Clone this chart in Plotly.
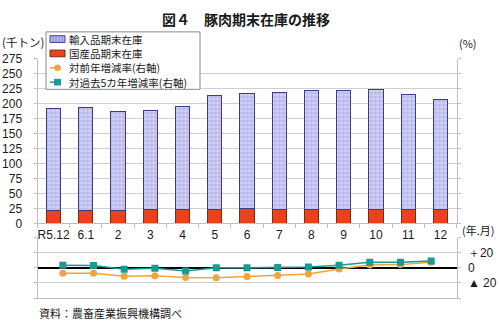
import plotly.graph_objects as go

W, H = 500, 328
months = ["R5.12", "6.1", "2", "3", "4", "5", "6", "7", "8", "9", "10", "11", "12"]
imported = [170, 173, 165, 166, 173, 190, 192, 195, 199, 200, 201, 193.5, 185]
domestic = [22, 21, 22, 23, 23, 24, 25, 24, 23, 22.5, 22.5, 22.5, 23]
yoy = [-7.3, -7.3, -11, -10.4, -12.9, -13, -11.6, -10, -8, -1.5, 3.9, 4.3, 7.5]
vs5yr = [3.5, 3.0, -1.7, -0.5, -4, 0, 0, 0.5, 1, 3.5, 7.3, 7.3, 9]
legend_names = ["輸入品期末在庫", "国産品期末在庫", "対前年増減率(右軸)", "対過去5カ年増減率(右軸)"]

FONT = "Noto Sans CJK JP"
NUMFONT = "Liberation Sans"

C_IMP_BG, C_IMP_FG, C_IMP_LINE = "#D4D4F6", "#6A6AD0", "#3C3C84"
C_DOM, C_DOM_LINE = "#E8431A", "#7A2A10"
C_YOY, C_5YR = "#F2A43A", "#1A9A95"


def py(y):
    return 1 - y / H


def pxx(x):
    return x / W


xdom = [pxx(37.5), pxx(456.5)]

fig = go.Figure()
fig.add_trace(go.Bar(
    x=months, y=domestic, name=legend_names[1],
    marker=dict(color=C_DOM, line=dict(color=C_DOM_LINE, width=1)),
    xaxis="x", yaxis="y",
))
fig.add_trace(go.Bar(
    x=months, y=imported, name=legend_names[0],
    marker=dict(color=C_IMP_BG, line=dict(color=C_IMP_LINE, width=1),
                pattern=dict(shape="+", fgcolor=C_IMP_FG, bgcolor=C_IMP_BG, size=4, solidity=0.3)),
    xaxis="x", yaxis="y",
))
fig.add_trace(go.Scatter(
    x=months, y=yoy, name=legend_names[2], mode="lines+markers",
    line=dict(color=C_YOY, width=1.5),
    marker=dict(symbol="circle", size=7, color=C_YOY),
    xaxis="x2", yaxis="y2",
))
fig.add_trace(go.Scatter(
    x=months, y=vs5yr, name=legend_names[3], mode="lines+markers",
    line=dict(color=C_5YR, width=1.5),
    marker=dict(symbol="square", size=7, color=C_5YR),
    xaxis="x2", yaxis="y2",
))

# manual legend (compact, like the reference)
shapes = []
annots = []
lx0, lx1, ly0, ly1 = 46, 200, 26, 86
shapes.append(dict(type="rect", xref="paper", yref="paper", x0=pxx(lx0), x1=pxx(lx1), y0=py(ly1), y1=py(ly0),
                   line=dict(color="#888888", width=1), fillcolor="white", layer="above"))
rows = [33.5, 48.5, 63.5, 78.5]
sx0, sx1 = 50, 65
shapes.append(dict(type="rect", xref="paper", yref="paper", x0=pxx(sx0), x1=pxx(sx1), y0=py(rows[0] + 3.5), y1=py(rows[0] - 3.5),
                   line=dict(color=C_IMP_LINE, width=1), fillcolor="#B8B8EE", layer="above"))
for vx in [53, 56, 59, 62]:
    shapes.append(dict(type="line", xref="paper", yref="paper", x0=pxx(vx), x1=pxx(vx), y0=py(rows[0] + 3), y1=py(rows[0] - 3),
                       line=dict(color=C_IMP_FG, width=0.6), layer="above"))
shapes.append(dict(type="rect", xref="paper", yref="paper", x0=pxx(sx0), x1=pxx(sx1), y0=py(rows[1] + 3.5), y1=py(rows[1] - 3.5),
                   line=dict(color=C_DOM_LINE, width=1), fillcolor=C_DOM, layer="above"))
for r, c, sym in [(rows[2], C_YOY, "circle"), (rows[3], C_5YR, "rect")]:
    shapes.append(dict(type="line", xref="paper", yref="paper", x0=pxx(sx0), x1=pxx(sx1), y0=py(r), y1=py(r),
                       line=dict(color=c, width=1.5, dash="dash"), layer="above"))
    cx = (sx0 + sx1) / 2
    shapes.append(dict(type=sym, xref="paper", yref="paper", x0=pxx(cx - 3), x1=pxx(cx + 3), y0=py(r + 3), y1=py(r - 3),
                       line=dict(color=c, width=1), fillcolor=c, layer="above"))
for r, name in zip(rows, legend_names):
    annots.append(dict(text=name, x=pxx(67), y=py(r), xref="paper", yref="paper", xanchor="left", yanchor="middle",
                       showarrow=False, font=dict(size=10.5, family=FONT)))

axis_gray = "#BFBFBF"
annots += [
    dict(text="<b>図４　豚肉期末在庫の推移</b>", x=pxx(246), y=py(13), xref="paper", yref="paper",
         xanchor="center", yanchor="middle", showarrow=False, font=dict(size=14, family=FONT)),
    dict(text="(千トン)", x=0, y=py(37), xref="paper", yref="paper",
         xanchor="left", yanchor="middle", showarrow=False, font=dict(size=11.5, family=FONT)),
    dict(text="(%)", x=pxx(468), y=py(38), xref="paper", yref="paper",
         xanchor="center", yanchor="middle", showarrow=False, font=dict(size=11, family=FONT)),
    dict(text="(年.月)", x=pxx(478), y=py(233), xref="paper", yref="paper",
         xanchor="center", yanchor="middle", showarrow=False, font=dict(size=11, family=FONT)),
    dict(text="資料：農畜産業振興機構調べ", x=pxx(37), y=py(320), xref="paper", yref="paper",
         xanchor="left", yanchor="middle", showarrow=False, font=dict(size=11, family=FONT)),
]

fig.update_layout(
    width=W, height=H,
    margin=dict(l=0, r=0, t=0, b=0),
    paper_bgcolor="white", plot_bgcolor="white",
    font=dict(family=FONT, size=11, color="#1a1a1a"),
    barmode="stack", bargap=0.56,
    showlegend=False,
    xaxis=dict(domain=xdom, anchor="y", type="category", categoryorder="array", categoryarray=months,
               showline=True, linecolor=axis_gray, ticks="outside", tickson="boundaries",
               ticklen=4, tickcolor=axis_gray, showgrid=False, tickangle=0,
               tickfont=dict(size=12, family=NUMFONT)),
    yaxis=dict(domain=[py(226), py(54.3)], range=[0, 275], dtick=25,
               showline=True, linecolor=axis_gray, mirror="ticks",
               ticks="outside", ticklen=3, tickcolor=axis_gray,
               gridcolor="#CFCFCF", gridwidth=1, zeroline=False,
               tickfont=dict(size=12, family=NUMFONT), ticklabelstandoff=9),
    xaxis2=dict(domain=xdom, anchor="y2", type="category", categoryorder="array", categoryarray=months,
                showline=True, linecolor=axis_gray, showticklabels=False, ticks="", showgrid=False),
    yaxis2=dict(domain=[py(304), py(241)], range=[-40, 40], side="right",
                tickvals=[-40, -20, 0, 20, 40], ticktext=["", "▲ 20", "0", "＋20", ""],
                showline=True, linecolor=axis_gray, mirror="ticks",
                ticks="outside", ticklen=3, tickcolor=axis_gray,
                gridcolor="#CFCFCF", zeroline=True, zerolinecolor="black", zerolinewidth=1.5,
                tickfont=dict(size=12, family=NUMFONT), ticklabelstandoff=5),
    shapes=shapes,
    annotations=annots,
)

fig.write_html("out.html")
